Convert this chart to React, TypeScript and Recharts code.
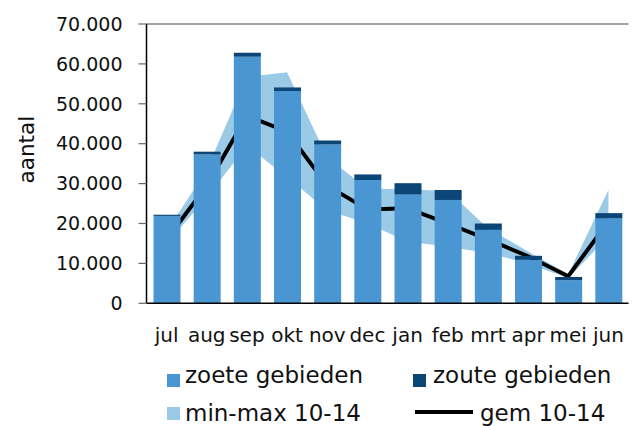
import React from 'react';
import {
  ComposedChart,
  Bar,
  Line,
  Area,
  XAxis,
  YAxis,
  ReferenceLine,
} from 'recharts';

const months = ['jul', 'aug', 'sep', 'okt', 'nov', 'dec', 'jan', 'feb', 'mrt', 'apr', 'mei', 'jun'];
const zoete = [21900, 37300, 61800, 53200, 39800, 30900, 27300, 25900, 18400, 10900, 5800, 21300];
const zoute = [300, 700, 1000, 900, 1000, 1400, 2800, 2500, 1600, 1000, 800, 1300];
const gem = [16000, 29500, 47000, 43000, 29500, 23500, 23800, 20000, 16000, 11800, 6800, 20500];
const minVals = [15000, 26500, 39500, 31600, 23300, 20000, 15500, 14200, 12600, 10000, 6300, 16800];
const maxVals = [18000, 33500, 56800, 57900, 36500, 28800, 28500, 28200, 18800, 13000, 7300, 28400];
const yTicks = [0, 10000, 20000, 30000, 40000, 50000, 60000, 70000];
const boundaryTicks = [0, 1, 2, 3, 4, 5, 6, 7, 8, 9, 10, 11, 12];

const data = months.map((m, i) => ({
  month: m,
  zoete: zoete[i],
  zoute: zoute[i],
  gem: gem[i],
  range: [minVals[i], maxVals[i]],
}));

const FONT = '"DejaVu Sans", sans-serif';
const C_ZOET = '#4a96d3';
const C_ZOUT = '#0b4676';
const C_RANGE = '#9bcae7';

const fmt = (v: number) => String(v).replace(/\B(?=(\d{3})+(?!\d))/g, '.');

const YLabel = (props: any) => {
  const { viewBox } = props;
  const x = viewBox.x + 34;
  const y = viewBox.y + viewBox.height / 2 - 14;
  return (
    <text x={x} y={y} transform={`rotate(-90, ${x}, ${y})`} textAnchor="middle"
      fontFamily={FONT} fontSize={21.5} fill="#111">
      aantal
    </text>
  );
};

const LegendOverlay = () => (
  <svg width={638} height={426} style={{ position: 'absolute', left: 0, top: 0, pointerEvents: 'none' }}
    fontFamily={FONT} fontSize={23} fill="#111">
    <rect x={167} y={374} width={13} height={13} fill={C_ZOET} />
    <text x={185} y={383}>zoete gebieden</text>
    <rect x={413} y={374} width={13} height={13} fill={C_ZOUT} />
    <text x={433} y={383}>zoute gebieden</text>
    <rect x={167} y={407} width={13} height={13} fill={C_RANGE} />
    <text x={185} y={421}>min-max 10-14</text>
    <line x1={415} x2={473} y1={412} y2={412} stroke="#000" strokeWidth={4} />
    <text x={480} y={421}>gem 10-14</text>
  </svg>
);

export default function App() {
  return (
    <div style={{ position: 'absolute', left: 0, top: 0, width: 638, height: 426, background: '#fff' }}>
      <ComposedChart width={638} height={426} data={data}
        margin={{ top: 24, right: 9.5, left: 0, bottom: 82.7 }}>
        <XAxis xAxisId="b" type="number" domain={[0, 12]} ticks={boundaryTicks} interval={0}
          allowDataOverflow height={0} tick={false} axisLine={false}
          tickLine={{ stroke: '#333', strokeWidth: 1.2 }} tickSize={6} />
        <XAxis dataKey="month" height={40} tickLine={false} tickSize={0} tickMargin={24}
          axisLine={{ stroke: '#000', strokeWidth: 1.5 }} interval={0}
          tick={{ fontFamily: FONT, fontSize: 20, fill: '#111' }} />
        <YAxis domain={[0, 70000]} ticks={yTicks} interval={0} width={146.5} tickFormatter={fmt}
          tickSize={8} tickMargin={16} axisLine={{ stroke: '#000', strokeWidth: 1.5 }}
          tickLine={{ stroke: '#666', strokeWidth: 1.2 }}
          tick={{ fontFamily: FONT, fontSize: 19, fill: '#111' }}
          label={<YLabel />} />
        <ReferenceLine y={70000} stroke="#444" strokeWidth={1.2} />
        <ReferenceLine x={12} xAxisId="b" stroke="#888" strokeWidth={1.8} />
        <Area dataKey="range" type="linear" stroke="none" fill={C_RANGE} fillOpacity={1}
          isAnimationActive={false} activeDot={false} />
        <Line dataKey="gem" type="linear" stroke="#000" strokeWidth={4} dot={false}
          isAnimationActive={false} activeDot={false} zIndex={250} />
        <Bar dataKey="zoete" stackId="s" fill={C_ZOET} barSize={27} isAnimationActive={false} />
        <Bar dataKey="zoute" stackId="s" fill={C_ZOUT} barSize={27} isAnimationActive={false} />
      </ComposedChart>
      <LegendOverlay />
    </div>
  );
}
